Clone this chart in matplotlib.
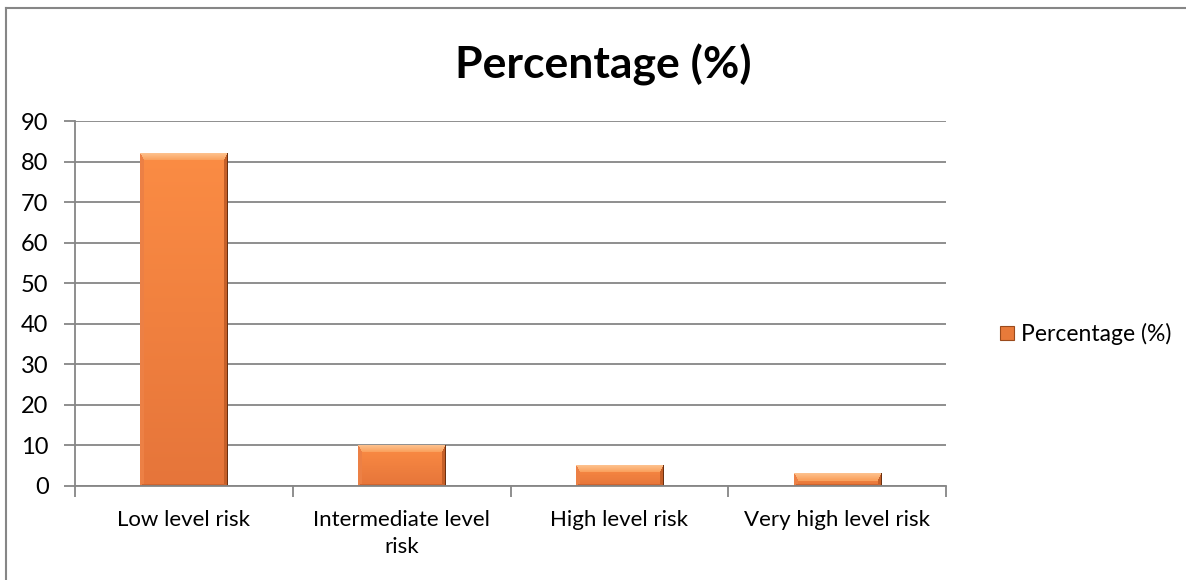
import numpy as np
import matplotlib
matplotlib.use("Agg")
import matplotlib.pyplot as plt
from matplotlib.patches import Rectangle
from matplotlib.lines import Line2D

categories = ["Low level risk", "Intermediate level\nrisk", "High level risk", "Very high level risk"]
values = [82, 10, 5, 3]
series_name = "Percentage (%)"
y_ticks = [0, 10, 20, 30, 40, 50, 60, 70, 80, 90]

plt.rcParams["font.family"] = ["Lato", "DejaVu Sans"]

W, H, DPI = 1186, 580, 100
fig = plt.figure(figsize=(W / DPI, H / DPI), dpi=DPI)
fig.patch.set_facecolor("white")

# plot area in pixels: x 75..946, y 121..486
ax = fig.add_axes([75 / W, 1 - 486 / H, (946 - 75) / W, (486 - 121) / H])
x = np.arange(len(categories))
bars = ax.bar(x, values, width=0.4, color="#F0803A", zorder=3)
ax.set_xlim(-0.5, len(categories) - 0.5)
ax.set_ylim(0, 90)
ax.set_yticks(y_ticks)
ax.tick_params(axis="y", labelsize=17, length=8, width=1.3, color="#868686", pad=11)
ax.set_xticks(x)
ax.set_xticklabels(categories, fontsize=16, linespacing=1.45)
ax.tick_params(axis="x", length=0, pad=17)
ax.set_xticks(np.arange(len(categories) + 1) - 0.5, minor=True)
ax.tick_params(axis="x", which="minor", length=8, width=1.3, color="#868686")
ax.yaxis.grid(True, color="#868686", lw=1.3, zorder=0)
for s in ["top", "right"]:
    ax.spines[s].set_visible(False)
for s in ["left", "bottom"]:
    ax.spines[s].set_color("#868686")
    ax.spines[s].set_linewidth(1.3)
    ax.spines[s].set_zorder(4)


def hexrgb(h):
    h = h.lstrip("#")
    return np.array([int(h[i:i + 2], 16) for i in (0, 2, 4)]) / 255.0


def bevel_image(wp, hp, bt=7, bs=4, bb=2):
    """Beveled orange face: lighter top edge, darker sides, soft bottom."""
    wp, hp = max(int(round(wp)), 2), max(int(round(hp)), 2)
    ii, jj = np.mgrid[0:hp, 0:wp]
    d = np.stack([ii / bt, (hp - 1 - ii) / bb, jj / bs, (wp - 1 - jj) / bs])
    m = d.min(axis=0)
    side = d.argmin(axis=0)
    t = ii / max(hp - 1, 1)
    face = (1 - t)[..., None] * hexrgb("#FB8C44") + t[..., None] * hexrgb("#E6753A")
    img = face.copy()
    # top bevel: light gradient
    mt = (side == 0) & (m < 1)
    s = (ii / bt)[mt][:, None]
    img[mt] = (1 - s) * hexrgb("#FDC08C") + s * hexrgb("#FA9D58")
    img[(side == 2) & (m < 1)] = hexrgb("#EC8045")
    img[(side == 3) & (m < 1)] = hexrgb("#C55F28")
    img[(side == 1) & (m < 1)] = hexrgb("#CF6530")
    # dark rim on the right edge
    img[:, -1:] = hexrgb("#6B3010")
    img[-1:, :] = hexrgb("#9A4A1C")
    return img


fig.canvas.draw()
for bar in bars:
    x0, y0 = bar.get_x(), bar.get_y()
    bw, bh = bar.get_width(), bar.get_height()
    p0 = ax.transData.transform((x0, y0))
    p1 = ax.transData.transform((x0 + bw, y0 + bh))
    img = bevel_image(p1[0] - p0[0], p1[1] - p0[1])
    ax.imshow(img, extent=(x0, x0 + bw, y0, y0 + bh), origin="upper",
              aspect="auto", zorder=3.5, interpolation="nearest")
    bar.set_alpha(0)
ax.set_xlim(-0.5, len(categories) - 0.5)
ax.set_ylim(0, 90)
ax.set_aspect("auto")

fig.text(603 / W, 1 - 65 / H, series_name, ha="center", va="center",
         fontsize=32, fontweight="bold")

handle = Rectangle((0, 0), 1, 1, facecolor="#E87A3A", edgecolor="#9A4A1C", lw=0.8)
fig.legend([handle], [series_name], loc="center left",
           bbox_to_anchor=(989 / W, 1 - 334 / H), frameon=False, fontsize=16.5,
           handlelength=0.6, handleheight=0.6, handletextpad=0.3, borderpad=0)

# chart border (left and top edges)
fig.add_artist(Line2D([6 / W, 6 / W], [1 - 8 / H, 0], color="#868686", lw=1.5,
                      transform=fig.transFigure))
fig.add_artist(Line2D([6 / W, 1], [1 - 8 / H, 1 - 8 / H], color="#868686", lw=1.5,
                      transform=fig.transFigure))

fig.savefig("out.png", dpi=DPI)
